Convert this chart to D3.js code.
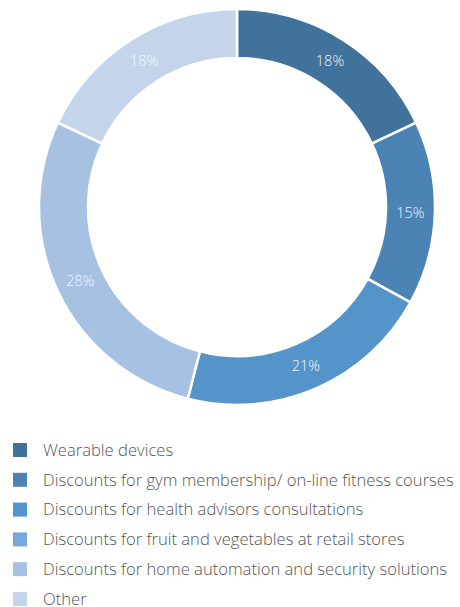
<!DOCTYPE html>
<html>
<head>
<meta charset="utf-8">
<script src="https://cdn.jsdelivr.net/npm/d3@7"></script>
<style>
  body { margin: 0; background: #fff; }
  text { font-family: "Open Sans", "Noto Sans", sans-serif; }
</style>
</head>
<body>
<div id="chart"></div>
<script>
const categories = [
  "Wearable devices",
  "Discounts for gym membership/ on-line fitness courses",
  "Discounts for health advisors consultations",
  "Discounts for fruit and vegetables at retail stores",
  "Discounts for home automation and security solutions",
  "Other"
];
const shares = [18, 15, 21, 0, 28, 18];
const colors = ["#41729c", "#4b83b5", "#5594ca", "#77a7dc", "#a6c1e2", "#c4d5eb"];

const W = 460, H = 607;
const cx = 237, cy = 207;
const outerR = 198, innerR = 149;

const svg = d3.select("#chart")
  .append("svg")
  .attr("width", W)
  .attr("height", H);

const data = categories.map((c, i) => ({ label: c, value: shares[i], color: colors[i] }));

const pie = d3.pie()
  .value(d => d.value)
  .sort(null);

const arc = d3.arc()
  .innerRadius(innerR)
  .outerRadius(outerR);

const g = svg.append("g")
  .attr("transform", `translate(${cx},${cy})`);

const arcs = pie(data).filter(d => d.data.value > 0);

g.selectAll("path")
  .data(arcs)
  .enter().append("path")
  .attr("d", arc)
  .attr("fill", d => d.data.color)
  .attr("stroke", "#fff")
  .attr("stroke-width", 2.5);

g.selectAll(".lbl")
  .data(arcs)
  .enter().append("text")
  .attr("class", "lbl")
  .attr("transform", d => `translate(${arc.centroid(d)})`)
  .attr("text-anchor", "middle")
  .attr("dy", "0.35em")
  .style("font-size", "14.5px")
  .style("font-weight", 300)
  .style("fill", "#f2f6fb")
  .text(d => d.data.value + "%");

// legend
const legend = svg.append("g")
  .attr("transform", "translate(13,443)");

const rows = legend.selectAll(".row")
  .data(data)
  .enter().append("g")
  .attr("class", "row")
  .attr("transform", (d, i) => `translate(0,${i * 29.8})`);

rows.append("rect")
  .attr("width", 14)
  .attr("height", 14)
  .attr("fill", d => d.color);

rows.append("text")
  .attr("x", 30)
  .attr("y", 7)
  .attr("dy", "0.35em")
  .style("font-size", "16.6px")
  .style("font-weight", 300)
  .style("fill", "#555")
  .text(d => d.label);
</script>
</body>
</html>
